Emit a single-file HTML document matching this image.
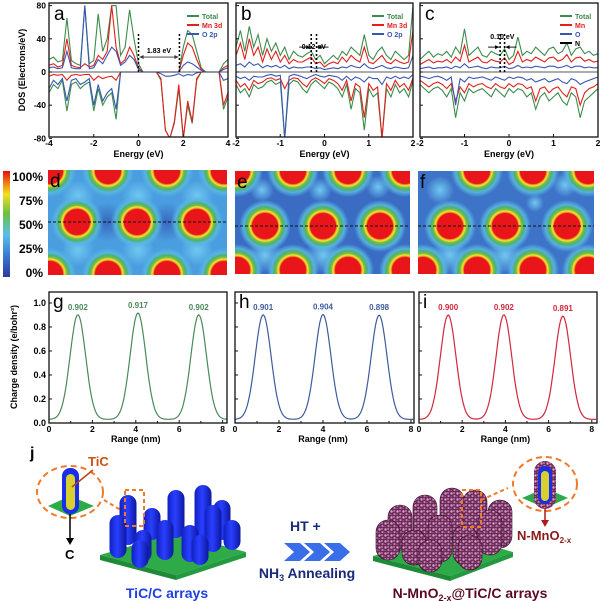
<!DOCTYPE html>
<html><head><meta charset="utf-8"><style>
html,body{margin:0;padding:0;background:#fff;}
svg{display:block;font-family:"Liberation Sans",Arial,sans-serif;}
.b{font-weight:bold;}
</style></head><body>
<svg id="fig" width="600" height="601" viewBox="0 0 600 601" xmlns="http://www.w3.org/2000/svg">
<defs>
<linearGradient id="jet" x1="0" y1="1" x2="0" y2="0">
<stop offset="0" stop-color="#2a3c9c"/><stop offset="0.2" stop-color="#3a78d0"/><stop offset="0.4" stop-color="#5ac0e8"/>
<stop offset="0.6" stop-color="#6cc040"/><stop offset="0.78" stop-color="#f0e020"/><stop offset="0.9" stop-color="#f07010"/><stop offset="1" stop-color="#e01010"/>
</linearGradient>
<radialGradient id="atom" r="0.5">
<stop offset="0" stop-color="#e8161a"/><stop offset="0.49" stop-color="#e8161a"/><stop offset="0.53" stop-color="#f5a020"/>
<stop offset="0.58" stop-color="#f0e830"/><stop offset="0.63" stop-color="#80c040"/><stop offset="0.72" stop-color="#50b070"/>
<stop offset="0.82" stop-color="#58b8e0" stop-opacity="0.9"/><stop offset="1" stop-color="#58b8e8" stop-opacity="0"/>
</radialGradient>
<radialGradient id="glow" r="0.5"><stop offset="0" stop-color="#70c8f0"/><stop offset="1" stop-color="#70c8f0" stop-opacity="0"/></radialGradient>
<radialGradient id="dark" r="0.5"><stop offset="0" stop-color="#3868c0"/><stop offset="1" stop-color="#3868c0" stop-opacity="0"/></radialGradient>
<linearGradient id="blueRod" x1="0" x2="1"><stop offset="0" stop-color="#1020c0"/><stop offset="0.45" stop-color="#2a40ff"/><stop offset="1" stop-color="#0c18a0"/></linearGradient>
<pattern id="fuzz" width="6" height="6" patternUnits="userSpaceOnUse">
<rect width="6" height="6" fill="#6a2a58"/><circle cx="1.5" cy="1.5" r="1.2" fill="#e0a0cc"/><circle cx="4.5" cy="4" r="1.1" fill="#c880b0"/><circle cx="4" cy="1" r="0.7" fill="#f4c4e4"/><circle cx="1" cy="4.5" r="0.6" fill="#b070a0"/>
</pattern>
<clipPath id="clipD"><rect x="48" y="170" width="179" height="105"/></clipPath>
<clipPath id="clipE"><rect x="235" y="171" width="175" height="103"/></clipPath>
<clipPath id="clipF"><rect x="418" y="171" width="176" height="103"/></clipPath>
</defs>
<g id="topRow"></g>
<g id="midRow"></g>
<g id="botRow"></g>
<g id="illus">
<text x="30" y="458" font-size="16" class="b">j</text>
<ellipse cx="70" cy="492" rx="33" ry="26" fill="none" stroke="#f07a28" stroke-width="2" stroke-dasharray="6,4"/>
<polygon points="48,506 70,496 94,506 70,516" fill="#2eaa48"/>
<rect x="62" y="468" width="17" height="46" rx="8" fill="#1a2ee8"/>
<rect x="66" y="474" width="9" height="36" rx="4.5" fill="#d8d030"/>
<line x1="72" y1="487" x2="93" y2="470" stroke="#c04010" stroke-width="1.5"/>
<text x="88" y="466" font-size="13" class="b" fill="#d05010">TiC</text>
<line x1="70" y1="514" x2="70" y2="540" stroke="#000" stroke-width="1.5"/>
<polygon points="66,538 74,538 70,545" fill="#000"/>
<text x="65" y="559" font-size="13" class="b">C</text>
<line x1="104" y1="500" x2="124" y2="512" stroke="#f07a28" stroke-width="2" stroke-dasharray="4,3"/>
<polygon points="100,555 175,533 246,552 176,575" fill="#2eaa48"/>
<polygon points="100,555 176,575 176,580 100,560" fill="#1e8a38"/>
<polygon points="176,575 246,552 246,557 176,580" fill="#239a40"/>
<g id="blueRods"></g>
<rect x="125" y="490" width="19" height="36" fill="none" stroke="#f07a28" stroke-width="2" stroke-dasharray="4,3"/>
<text x="167" y="598" font-size="14" class="b" fill="#1e40e0" text-anchor="middle">TiC/C arrays</text>
<text x="290" y="531" font-size="14" class="b" fill="#1a2a7a">HT +</text>
<g fill="#3a6ee8">
<polygon points="284,543 300,543 310,552 300,561 284,561 294,552"/>
<polygon points="304,543 320,543 330,552 320,561 304,561 314,552"/>
<polygon points="324,543 340,543 350,552 340,561 324,561 334,552"/>
</g>
<text x="307" y="578" font-size="14" class="b" fill="#1a2a7a" text-anchor="middle">NH<tspan font-size="9" dy="3">3</tspan><tspan dy="-3"> Annealing</tspan></text>
<polygon points="373,556 450,534 513,552 450,576" fill="#2eaa48"/>
<polygon points="373,556 450,576 450,581 373,561" fill="#1e8a38"/>
<polygon points="450,576 513,552 513,557 450,581" fill="#239a40"/>
<g id="fuzzRods"></g>
<rect x="462" y="490" width="19" height="37" fill="none" stroke="#f07a28" stroke-width="2" stroke-dasharray="4,3"/>
<line x1="481" y1="500" x2="508" y2="488" stroke="#f07a28" stroke-width="2" stroke-dasharray="4,3"/>
<ellipse cx="545" cy="484" rx="32" ry="27" fill="none" stroke="#f07a28" stroke-width="2" stroke-dasharray="6,4"/>
<polygon points="522,498 545,488 568,498 545,508" fill="#2eaa48"/>
<rect x="534" y="461" width="22" height="48" rx="11" fill="url(#fuzz)"/>
<rect x="538" y="466" width="14" height="38" rx="7" fill="#1a2ee8"/>
<rect x="541" y="471" width="8" height="30" rx="4" fill="#d8d030"/>
<line x1="545" y1="508" x2="545" y2="522" stroke="#b01818" stroke-width="1.5"/>
<polygon points="541,520 549,520 545,527" fill="#b01818"/>
<text x="517" y="540" font-size="13" class="b" fill="#8b1a1a">N-MnO<tspan font-size="8" dy="3">2-x</tspan></text>
<text x="470" y="598" font-size="14" class="b" fill="#5a0a20" text-anchor="middle">N-MnO<tspan font-size="9" dy="3">2-x</tspan><tspan dy="-3">@TiC/C arrays</tspan></text>
</g>
</svg>
<script>
const aTotUp=[15,18,12,14,65,14,10,8,80,10,14,70,25,40,80,80,20,30,75,40,10,0,0,0,0,0,0,0,0,0,30,50,45,25,5,0,0,0,0,10,15];
const aMnUp=[8,10,6,8,40,8,6,5,10,6,8,20,15,25,80,30,10,15,30,20,5,0,0,0,0,0,0,0,0,0,20,35,30,15,3,0,0,0,0,5,8];
const aOUp=[5,6,4,5,25,5,4,4,80,4,5,15,10,20,30,25,8,12,20,15,3,0,0,0,0,0,0,0,0,0,8,12,10,6,2,0,0,0,0,3,5];
const aTotDn=[-25,-15,-20,-10,-47,-15,-12,-20,-15,-12,-47,-20,-40,-30,-25,-57,0,0,0,0,0,0,0,0,0,-10,-70,-80,-62,-20,-80,-40,-62,-10,0,0,0,0,0,-45,-30];
const aMnDn=[-5,-3,-4,-3,-10,-4,-3,-4,-3,-3,-10,-5,-8,-6,-5,-10,0,0,0,0,0,0,0,0,0,-8,-70,-80,-60,-15,-80,-35,-60,-8,0,0,0,0,0,-40,-25];
const aODn=[-20,-10,-15,-8,-35,-10,-8,-15,-12,-8,-40,-15,-35,-25,-20,-45,0,0,0,0,0,0,0,0,0,-2,-5,-5,-4,-2,-5,-3,-4,-1,0,0,0,0,0,-10,-8];
const bTotUp=[30,50,25,55,30,45,20,40,25,35,20,30,15,25,20,18,22,25,15,20,10,15,20,15,25,20,30,25,20,45,20,15,25,30,20,15,25,20,15,20,80];
const bMnUp=[20,35,15,40,20,30,12,28,15,25,12,20,10,15,12,12,15,18,10,12,6,10,12,10,18,12,20,15,12,30,12,10,15,20,12,10,15,12,10,12,50];
const bOUp=[8,10,6,12,8,10,5,8,6,8,5,8,4,6,5,5,6,6,4,5,3,4,5,4,6,5,8,6,5,10,5,4,6,8,5,4,6,5,4,5,20];
const bTotDn=[-15,-25,-20,-30,-15,-20,-18,-12,-10,-15,-12,-80,-15,-10,-12,-20,-25,-15,-10,-15,-20,-12,-15,-20,-30,-15,-45,-20,-25,-70,-20,-30,-25,-80,-20,-30,-15,-25,-20,-30,-10];
const bMnDn=[-10,-18,-14,-22,-10,-14,-12,-8,-7,-10,-8,-20,-10,-7,-8,-14,-18,-10,-7,-10,-14,-8,-10,-14,-22,-10,-35,-14,-18,-55,-14,-22,-18,-80,-14,-22,-10,-18,-14,-22,-7];
const bODn=[-5,-8,-6,-10,-5,-6,-6,-4,-3,-5,-4,-80,-5,-3,-4,-6,-8,-5,-3,-5,-6,-4,-5,-6,-10,-5,-10,-6,-8,-12,-6,-8,-8,-15,-6,-8,-5,-8,-6,-8,-3];
const cTotUp=[15,20,25,18,22,20,25,18,30,22,52,20,25,30,20,18,25,22,20,28,15,20,42,20,25,22,30,25,20,28,30,22,25,35,20,28,30,22,25,20,22];
const cMnUp=[9,12,15,11,13,12,15,11,18,13,32,12,15,18,12,11,15,13,12,17,9,12,25,12,15,13,18,15,12,17,18,13,15,21,12,17,18,13,15,12,13];
const cOUp=[4,5,6,4,5,5,6,4,7,5,10,5,6,7,5,4,6,5,5,7,4,5,8,5,6,5,7,6,5,7,7,5,6,8,5,7,7,5,6,5,5];
const cTotDn=[-15,-20,-25,-20,-18,-22,-30,-20,-55,-25,-35,-20,-25,-22,-20,-25,-30,-20,-25,-30,-20,-25,-20,-22,-30,-25,-45,-30,-25,-35,-30,-25,-35,-40,-25,-30,-55,-35,-30,-25,-20];
const cMnDn=[-10,-14,-18,-14,-12,-15,-20,-14,-35,-18,-25,-14,-18,-15,-14,-18,-20,-14,-18,-20,-14,-18,-14,-15,-20,-18,-35,-20,-18,-25,-20,-18,-25,-30,-18,-20,-40,-25,-20,-18,-14];
const cODn=[-5,-6,-8,-6,-5,-7,-10,-6,-40,-8,-12,-6,-8,-7,-6,-8,-10,-6,-8,-10,-6,-8,-6,-7,-10,-8,-12,-10,-8,-12,-10,-8,-12,-14,-8,-10,-15,-12,-10,-8,-6];
const dosYTicks=[-80,-40,0,40,80];
const aXTicks=[-4,-2,0,2,4];
const bcXTicks=[-2,-1,0,1,2];
const gPeakPos=[1.33,4.1,6.9], gPeakVal=[0.902,0.917,0.902];
const hPeakPos=[1.28,4.0,6.55], hPeakVal=[0.901,0.904,0.898];
const iPeakPos=[1.35,3.93,6.66], iPeakVal=[0.900,0.902,0.891];
const cdBaseline=[0.03,0.03,0.03];
const cdYTicks=[0.0,0.2,0.4,0.6,0.8,1.0];
const cdXTicks=[0,2,4,6,8];
const colorbarLabels=["100%","75%","50%","25%","0%"];
const dAtomsX=[77,137,197,50,108,167,224,50,108,167,224], dAtomsY=[222,222,222,171,171,171,171,274,274,274,274];
const eAtomsX=[265,323,380,237,293,348,405,237,293,348,405], eAtomsY=[226,226,226,171,171,171,171,270,270,270,270];
const fAtomsX=[450,505,567,477,533,588,423,477,533,588], fAtomsY=[226,226,226,171,171,171,270,270,270,270];

const NS="http://www.w3.org/2000/svg";
function mk(parent,tag,attrs,txt){const e=document.createElementNS(NS,tag);for(const k in attrs)e.setAttribute(k,attrs[k]);if(txt!==undefined)e.textContent=txt;parent.appendChild(e);return e;}
const topG=document.getElementById('topRow'),midG=document.getElementById('midRow'),botG=document.getElementById('botRow');
const GREEN='#3c8c4c',RED='#e0201c',BLUE='#3858b0';

function dosPanel(id,x0,x1,dmin,dmax,step,series,xt,letter,showY){
  const g=mk(topG,'g',{});
  
  
  const y0=3,y1=137;
  const X=v=>x0+(v-dmin)/(dmax-dmin)*(x1-x0);
  const Y=v=>72-v*0.83;
  const clipId='cl'+id;
  const cp=mk(g,'clipPath',{id:clipId});mk(cp,'rect',{x:x0,y:y0,width:x1-x0,height:y1-y0});
  const lines=mk(g,'g',{'clip-path':'url(#'+clipId+')'});
  series.forEach(s=>{
    const pts=s.v.map((v,i)=>X(dmin+i*step).toFixed(1)+','+Y(v).toFixed(1)).join(' ');
    const ln=mk(lines,'polyline',{points:pts,fill:'none',stroke:s.c,'stroke-width':1.1});
    
    
  });
  const zl=mk(g,'line',{x1:x0,x2:x1,y1:Y(0),y2:Y(0),stroke:'#222','stroke-width':0.8});
  
  
  const frm=mk(g,'rect',{x:x0,y:y0,width:x1-x0,height:y1-y0,fill:'none',stroke:'#111','stroke-width':1.3});
  
  
  xt.forEach(t=>{
    mk(g,'line',{x1:X(t),x2:X(t),y1:y1,y2:y1-3,stroke:'#111'});
    const tl=mk(g,'text',{x:X(t),y:y1+9,'font-size':8.5,'text-anchor':'middle',class:'b'},t);
    
    
  });
  dosYTicks.forEach(t=>{
    mk(g,'line',{x1:x0,x2:x0+3,y1:Y(t),y2:Y(t),stroke:'#111'});
    if(showY){const tl=mk(g,'text',{x:x0-3,y:Y(t)+3,'font-size':8.5,'text-anchor':'end',class:'b'},t);
    
    }
  });
  const xl=mk(g,'text',{x:(x0+x1)/2,y:157,'font-size':9,'text-anchor':'middle',class:'b'},'Energy (eV)');
  
  
  const plab=mk(g,'text',{x:x0+5,y:y0+17,'font-size':19},letter);
  
  
  return {g,X,Y};
}
function legend(g,x,y,items){
  items.forEach((it,k)=>{
    const yy=y+k*9;
    mk(g,'line',{x1:x,x2:x+12,y1:yy,y2:yy,stroke:it[1],'stroke-width':2});
    const t=mk(g,'text',{x:x+15,y:yy+3,'font-size':7,class:'b',fill:it[1]},it[0]);
    
    
  });
}
function gapMark(g,X,Y,e1,e2,label,ylab,inward){
  [e1,e2].forEach(e=>{const l=mk(g,'line',{x1:X(e),x2:X(e),y1:Y(0),y2:Y(48),stroke:'#000','stroke-width':1.5,'stroke-dasharray':'2,2'});
  
  });
  const ya=Y(18);
  if(!inward){mk(g,'line',{x1:X(e1)+1,x2:X(e2)-1,y1:ya,y2:ya,stroke:'#333','stroke-width':0.8});
    mk(g,'polygon',{points:`${X(e1)+1},${ya} ${X(e1)+5},${ya-2} ${X(e1)+5},${ya+2}`,fill:'#333'});
    mk(g,'polygon',{points:`${X(e2)-1},${ya} ${X(e2)-5},${ya-2} ${X(e2)-5},${ya+2}`,fill:'#333'});}
  else{const y2=Y(30);
    mk(g,'line',{x1:X(e1)-12,x2:X(e1)-1,y1:y2,y2:y2,stroke:'#000','stroke-width':0.9});
    mk(g,'polygon',{points:`${X(e1)-1},${y2} ${X(e1)-5},${y2-2} ${X(e1)-5},${y2+2}`,fill:'#000'});
    mk(g,'line',{x1:X(e2)+1,x2:X(e2)+12,y1:y2,y2:y2,stroke:'#000','stroke-width':0.9});
    mk(g,'polygon',{points:`${X(e2)+1},${y2} ${X(e2)+5},${y2-2} ${X(e2)+5},${y2+2}`,fill:'#000'});}
  const t=mk(g,'text',{x:(X(e1)+X(e2))/2,y:ylab,'font-size':7,'text-anchor':'middle',class:'b'},label);
  
  
}
const pa=dosPanel('a',49,228,-4,4,0.2,[{n:'total-up',v:aTotUp,c:GREEN},{n:'total-down',v:aTotDn,c:GREEN},{n:'mn-up',v:aMnUp,c:RED},{n:'mn-down',v:aMnDn,c:RED},{n:'o-up',v:aOUp,c:BLUE},{n:'o-down',v:aODn,c:BLUE}],aXTicks,'a',true);
legend(pa.g,187,16,[['Total',GREEN],['Mn 3d',RED],['O 2p',BLUE]]);
gapMark(pa.g,pa.X,pa.Y,0,1.83,'1.83 eV',53,false);
const pb=dosPanel('b',236,413,-2,2,0.1,[{n:'total-up',v:bTotUp,c:GREEN},{n:'total-down',v:bTotDn,c:GREEN},{n:'mn-up',v:bMnUp,c:RED},{n:'mn-down',v:bMnDn,c:RED},{n:'o-up',v:bOUp,c:BLUE},{n:'o-down',v:bODn,c:BLUE}],bcXTicks,'b',false);
legend(pb.g,372,16,[['Total',GREEN],['Mn 3d',RED],['O 2p',BLUE]]);
gapMark(pb.g,pb.X,pb.Y,-0.3,-0.18,'0.12 eV',49,true);
const pc=dosPanel('c',420,598,-2,2,0.1,[{n:'total-up',v:cTotUp,c:GREEN},{n:'total-down',v:cTotDn,c:GREEN},{n:'mn-up',v:cMnUp,c:RED},{n:'mn-down',v:cMnDn,c:RED},{n:'o-up',v:cOUp,c:BLUE},{n:'o-down',v:cODn,c:BLUE}],bcXTicks,'c',false);
legend(pc.g,560,16,[['Total',GREEN],['Mn',RED],['O',BLUE],['N','#000']]);
gapMark(pc.g,pc.X,pc.Y,-0.2,-0.1,'0.10 eV',39,true);
const yt=mk(topG,'text',{transform:'translate(25,70) rotate(-90)','font-size':9,'text-anchor':'middle',class:'b'},'DOS (Electrons/eV)');



const cb=mk(midG,'rect',{x:3,y:171,width:7,height:106,fill:'url(#jet)'});


colorbarLabels.forEach((s,k)=>{
  const t=mk(midG,'text',{x:43,y:181+k*24,'font-size':12,'text-anchor':'end',class:'b'},s);
  
  
});
function heat(id,x,y,w,h,bg,ax,ay,clip,lineY,letter,glows){
  const g=mk(midG,'g',{'clip-path':'url(#'+clip+')'});
  
  
  mk(g,'rect',{x,y,width:w,height:h,fill:bg});
  glows.forEach(p=>mk(g,'circle',{cx:p[0],cy:p[1],r:p[2],fill:'url(#'+p[3]+')'}));
  ax.forEach((cx,k)=>{
    const c=mk(g,'circle',{cx:cx,cy:ay[k],r:26,fill:'url(#atom)'});
    
    
  });
  const dl=mk(midG,'line',{x1:x,x2:x+w,y1:lineY,y2:lineY,stroke:'#111','stroke-width':1,'stroke-dasharray':'3,2'});
  
  
  const t=mk(midG,'text',{x:x+2,y:y+17,'font-size':19},letter);
  
  
}
heat('d',48,170,179,105,'#4a9ee0',dAtomsX,dAtomsY,'clipD',222,'d',[[107,222,20,'dark'],[167,222,20,'dark'],[78,196,16,'glow'],[138,196,16,'glow'],[197,196,16,'glow'],[78,250,16,'glow'],[138,250,16,'glow'],[197,250,16,'glow']]);
heat('e',235,171,175,103,'#3a6cc4',eAtomsX,eAtomsY,'clipE',226,'e',[[262,190,12,'glow'],[320,190,12,'glow'],[378,187,12,'glow'],[265,255,18,'glow'],[323,255,18,'glow']]);
heat('f',418,171,176,103,'#3e74c8',fAtomsX,fAtomsY,'clipF',226,'f',[[535,203,9,'glow'],[565,185,12,'glow'],[450,255,18,'glow'],[505,255,18,'glow'],[440,190,14,'glow']]);

function cdPanel(id,x0,x1,sx,pos,val,col,letter,showY){
  const g=mk(botG,'g',{});
  
  
  const X=v=>x0+v*sx, Y=v=>423-v*120, y0=292,y1=423;
  const pts=[];
  for(let xv=0;xv<=8.2;xv+=0.05){
    let v=cdBaseline[0];
    pos.forEach((p,k)=>{v+=(val[k]-cdBaseline[0])*Math.exp(-Math.pow(xv-p,2)/(2*0.36*0.36));});
    if(X(xv)<=x1)pts.push(X(xv).toFixed(1)+','+Y(v).toFixed(1));
  }
  const ln=mk(g,'polyline',{points:pts.join(' '),fill:'none',stroke:col,'stroke-width':1.2});
  
  
  pos.forEach((p,k)=>{
    const t=mk(g,'text',{x:X(p),y:Y(val[k])-5,'font-size':8,'text-anchor':'middle',class:'b',fill:col},val[k].toFixed(3));
    
    
  });
  const frm=mk(g,'rect',{x:x0,y:y0,width:x1-x0,height:y1-y0,fill:'none',stroke:'#111','stroke-width':1.3});
  
  
  cdXTicks.forEach(t=>{
    mk(g,'line',{x1:X(t),x2:X(t),y1:y1,y2:y1-3,stroke:'#111'});
    if(t<8)mk(g,'line',{x1:X(t+1),x2:X(t+1),y1:y1,y2:y1-2,stroke:'#111'});
    const tl=mk(g,'text',{x:X(t),y:y1+9,'font-size':8.5,'text-anchor':'middle',class:'b'},t);
    
    
  });
  cdYTicks.forEach(t=>{
    mk(g,'line',{x1:x0,x2:x0+3,y1:Y(t),y2:Y(t),stroke:'#111'});
    if(showY){const tl=mk(g,'text',{x:x0-3,y:Y(t)+3,'font-size':9,'text-anchor':'end',class:'b'},t.toFixed(1));
    
    }
  });
  const xl=mk(g,'text',{x:X(4),y:442,'font-size':9,'text-anchor':'middle',class:'b'},'Range (nm)');
  
  
  const t=mk(g,'text',{x:x0+4,y:y0+16,'font-size':19},letter);
  
  
}
cdPanel('g',49,227,21.7,gPeakPos,gPeakVal,'#4a8a5a','g',true);
cdPanel('h',235,414,22,hPeakPos,hPeakVal,'#3e5c9c','h',false);
cdPanel('i',419,597,21.6,iPeakPos,iPeakVal,'#d0283c','i',false);
const cy=mk(botG,'text',{transform:'translate(17,357) rotate(-90)','font-size':9,'text-anchor':'middle',class:'b'},'Charge density (e/bohr³)');



const blueRodsX=[128,152,176,203,222,118,143,165,190,213,232,140,200];
const blueRodsTop=[495,508,490,485,500,515,530,520,525,505,520,540,535];
const blueRodsBot=[545,540,538,545,540,558,562,560,562,552,550,568,565];
const brG=document.getElementById('blueRods');
blueRodsX.forEach((x,k)=>{
  const r=mk(brG,'rect',{x:x-8.5,y:blueRodsTop[k],width:17,height:blueRodsBot[k]-blueRodsTop[k],rx:8.5,fill:'url(#blueRod)'});
  
  
});
const fuzzRodsX=[400,425,452,475,500,388,414,440,465,490,430,470];
const fuzzRodsTop=[505,495,488,490,500,520,530,515,525,510,540,535];
const fuzzRodsBot=[550,545,540,545,548,560,565,562,565,555,572,570];
const frG=document.getElementById('fuzzRods');
fuzzRodsX.forEach((x,k)=>{
  const r=mk(frG,'rect',{x:x-12,y:fuzzRodsTop[k],width:24,height:fuzzRodsBot[k]-fuzzRodsTop[k],rx:12,fill:'url(#fuzz)',stroke:'#3a0c2c','stroke-width':0.6});
  
  
});
</script>
</body></html>
